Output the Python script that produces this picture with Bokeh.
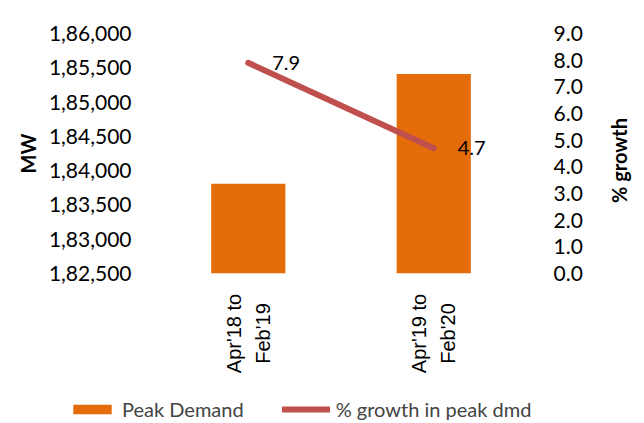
import math
from bokeh.plotting import figure
from bokeh.layouts import row, column
from bokeh.models import (ColumnDataSource, Range1d, LinearAxis, FixedTicker,
                          Legend, LegendItem, LabelSet, FactorRange)
from bokeh.core.properties import value
from bokeh.embed import file_html
from bokeh.resources import INLINE

categories = ["Apr'18 to\nFeb'19", "Apr'19 to\nFeb'20"]
peak_demand = [183810, 185410]
pct_growth = [7.9, 4.7]
pct_labels = ["7.9", "4.7"]
left_ticks = [182500, 183000, 183500, 184000, 184500, 185000, 185500, 186000]
left_tick_labels = ["1,82,500", "1,83,000", "1,83,500", "1,84,000",
                    "1,84,500", "1,85,000", "1,85,500", "1,86,000"]
right_ticks = [0, 1, 2, 3, 4, 5, 6, 7, 8, 9]
left_title = "MW"
right_title = ["% growth"]
series_names = ["Peak Demand", "% growth in peak dmd"]

FONT = "Lato"
BAR_COLOR = "#E46C0A"
LINE_COLOR = "#C0504D"

# layout constants (pixels)
W, H = 644, 423
FL, FR, FT, FB = 155, 526, 33, 273      # plot frame edges
MAIN_W = 600                            # width of main figure
MAIN_H = FB + 16                        # height of main figure
BOT_H = H - MAIN_H                      # height of bottom strip

src = ColumnDataSource(dict(cat=categories, peak=peak_demand,
                            pct=pct_growth, lab=pct_labels))

p = figure(width=MAIN_W, height=MAIN_H, x_range=FactorRange(*categories),
           y_range=Range1d(left_ticks[0], left_ticks[-1]), output_backend="svg",
           toolbar_location=None, min_border_left=FL, min_border_right=MAIN_W - FR,
           min_border_top=FT, min_border_bottom=MAIN_H - FB)
p.outline_line_color = None
p.xgrid.grid_line_color = None
p.ygrid.grid_line_color = None
p.x_range.range_padding = 0.0
p.extra_y_ranges = {"pct": Range1d(right_ticks[0], right_ticks[-1])}
p.xaxis.visible = False

bars = p.vbar(x="cat", top="peak", bottom=left_ticks[0], width=0.4, source=src,
              fill_color=BAR_COLOR, line_color=None)
line = p.line(x="cat", y="pct", source=src, y_range_name="pct",
              line_color=LINE_COLOR, line_width=6, line_cap="round")

labels = LabelSet(x="cat", y="pct", text="lab", source=src, y_range_name="pct",
                  x_offset=24, y_offset=0, text_baseline="middle",
                  text_align="left", text_font=value(FONT), text_font_size="20px",
                  text_color="#000000")
p.add_layout(labels)

# left axis
ya = p.yaxis[0]
ya.ticker = FixedTicker(ticks=left_ticks)
ya.major_label_overrides = {t: l for t, l in zip(left_ticks, left_tick_labels)}
ya.axis_line_color = None
ya.major_tick_line_color = None
ya.minor_tick_line_color = None
ya.major_label_text_font = FONT
ya.major_label_text_font_size = "21px"
ya.major_label_text_color = "#000000"
ya.major_label_standoff = 18
ya.axis_label = left_title
ya.axis_label_text_font = FONT
ya.axis_label_text_font_style = "bold"
ya.axis_label_text_font_size = "20px"
ya.axis_label_text_color = "#000000"
ya.axis_label_standoff = 6

# right axis
ra = LinearAxis(y_range_name="pct", ticker=FixedTicker(ticks=right_ticks))
ra.major_label_overrides = {t: f"{t:.1f}" for t in right_ticks}
ra.axis_line_color = None
ra.major_tick_line_color = None
ra.minor_tick_line_color = None
ra.major_label_text_font = FONT
ra.major_label_text_font_size = "21px"
ra.major_label_text_color = "#000000"
ra.major_label_standoff = 21
p.add_layout(ra, "right")

# right-hand axis title, reading bottom to top
TW = W - MAIN_W
t = figure(width=TW, height=MAIN_H, x_range=Range1d(0, TW),
           y_range=Range1d(0, MAIN_H), output_backend="svg",
           toolbar_location=None, min_border=0)
t.axis.visible = False
t.grid.visible = False
t.outline_line_color = None
t.text(x=[618 - MAIN_W], y=[MAIN_H - (FT + FB) / 2], text=right_title,
       angle=math.pi / 2, text_align="center", text_baseline="middle",
       text_font=value(FONT), text_font_style="bold", text_font_size="20px",
       text_color="#000000")

# bottom strip: category labels and legend
unit = (FR - FL) / len(categories)
b = figure(width=W, height=BOT_H,
           x_range=Range1d(-FL / unit, (W - FL) / unit),
           y_range=Range1d(0, BOT_H), output_backend="svg",
           toolbar_location=None, min_border=0)
b.axis.visible = False
b.grid.visible = False
b.outline_line_color = None
cat_pos = [i + 0.5 for i in range(len(categories))]
b.text(x=cat_pos, y=[BOT_H - (333 - MAIN_H)] * len(categories), text=categories,
       angle=math.pi / 2, text_align="center", text_baseline="middle",
       text_font=value("Liberation Sans"), text_font_size="20px",
       text_color="#000000", text_line_height=1.3)

# hidden copies of the series, used only for the legend swatches
lb = b.vbar(x=cat_pos, top=peak_demand, width=0.4, fill_color=BAR_COLOR,
            line_color=None, visible=False)
ll = b.line(x=cat_pos, y=pct_growth, line_color=LINE_COLOR, line_width=6,
            line_cap="round", visible=False)
legend = Legend(items=[LegendItem(label=series_names[0], renderers=[lb]),
                       LegendItem(label=series_names[1], renderers=[ll])],
                orientation="horizontal", location=(68, 2),
                label_text_font=FONT, label_text_font_size="20px",
                glyph_width=48, glyph_height=12, spacing=38,
                label_standoff=6, border_line_color=None,
                background_fill_alpha=0, padding=0, margin=0,
                inactive_fill_alpha=0)
b.add_layout(legend, "center")

layout = column(row(p, t, spacing=0), b, spacing=0)
open("out.html", "w").write(file_html(layout, INLINE))
